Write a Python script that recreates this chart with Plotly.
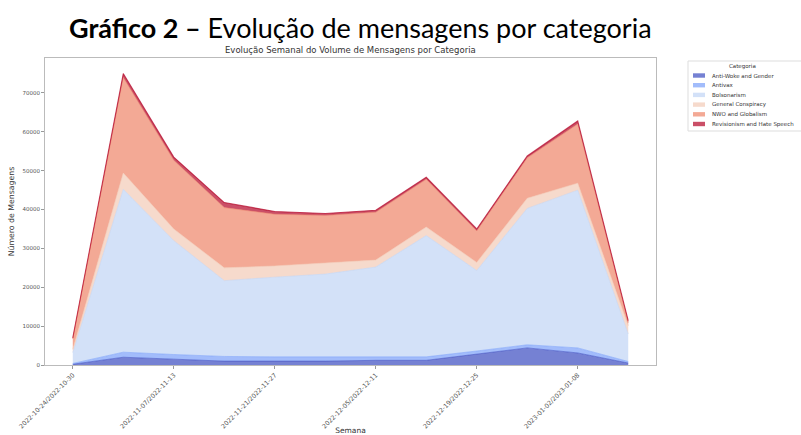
import plotly.graph_objects as go

weeks = ["2022-10-24/2022-10-30", "2022-10-31/2022-11-06", "2022-11-07/2022-11-13",
         "2022-11-14/2022-11-20", "2022-11-21/2022-11-27", "2022-11-28/2022-12-04",
         "2022-12-05/2022-12-11", "2022-12-12/2022-12-18", "2022-12-19/2022-12-25",
         "2022-12-26/2023-01-01", "2023-01-02/2023-01-08", "2023-01-09/2023-01-15"]

anti_woke = [200, 2000, 1500, 1000, 1000, 1000, 1200, 1200, 2800, 4400, 3100, 500]
antivax = [200, 1300, 1200, 1200, 1100, 1100, 900, 900, 800, 800, 1300, 400]
bolsonarism = [2800, 41900, 29300, 19500, 20500, 21300, 23100, 31200, 20700, 35100, 40600, 7100]
general_conspiracy = [800, 4200, 3000, 3300, 2900, 2800, 1800, 2200, 2100, 2600, 1800, 2100]
nwo_globalism = [2700, 24600, 17700, 15500, 13300, 12300, 12300, 12300, 8100, 10400, 15200, 800]
revisionism = [300, 1000, 800, 1300, 700, 500, 500, 500, 500, 500, 800, 500]

categories = ["Anti-Woke and Gender", "Antivax", "Bolsonarism",
              "General Conspiracy", "NWO and Globalism", "Revisionism and Hate Speech"]
series = [anti_woke, antivax, bolsonarism, general_conspiracy, nwo_globalism, revisionism]
# coolwarm, 6 steps, alpha 0.7
colors = ["rgba(59,76,192,0.7)", "rgba(123,159,249,0.7)", "rgba(192,212,245,0.7)",
          "rgba(242,203,183,0.7)", "rgba(238,132,104,0.7)", "rgba(180,4,38,0.7)"]

x = list(range(len(weeks)))

fig = go.Figure()
for name, vals, col in zip(categories, series, colors):
    fig.add_trace(go.Scatter(x=x, y=vals, name=name, mode="lines",
                             stackgroup="one", fillcolor=col, showlegend=False,
                             line=dict(color=col, width=1.1 if name.startswith("Rev") else 0.8)))

W, H = 801, 435
ml, mr, mt, mb = 45, 145, 58, 70
pw, ph = W - ml - mr, H - mt - mb


def px_x(p):
    return (p - ml) / pw


def px_y(p):
    return (H - mb - p) / ph


# small matplotlib-style legend, drawn by hand (plotly's rows are too tall)
shapes = [dict(type="rect", xref="paper", yref="paper",
               x0=px_x(688), x1=px_x(812), y0=px_y(61), y1=px_y(131),
               line=dict(color="#dddddd", width=1), fillcolor="white")]
annotations = [
    dict(text="<b>Gráfico 2 –</b> Evolução de mensagens por categoria",
         x=px_x(360), y=px_y(28), xref="paper", yref="paper", yanchor="middle",
         showarrow=False, font=dict(family="Lato", size=27, color="black")),
    dict(text="Evolução Semanal do Volume de Mensagens por Categoria",
         x=0.5, y=px_y(50), xref="paper", yref="paper", yanchor="middle",
         showarrow=False, font=dict(size=8.5, color="#333")),
    dict(text="Categoria", x=px_x(742), y=px_y(66), xref="paper", yref="paper",
         xanchor="center", yanchor="middle", showarrow=False,
         font=dict(size=5.5, color="#333")),
]
for i, (name, col) in enumerate(zip(categories, colors)):
    yc = 75.5 + i * 9.7
    shapes.append(dict(type="rect", xref="paper", yref="paper",
                       x0=px_x(693), x1=px_x(705), y0=px_y(yc - 2.2), y1=px_y(yc + 2.2),
                       line=dict(width=0), fillcolor=col))
    annotations.append(dict(text=name, x=px_x(710), y=px_y(yc), xref="paper", yref="paper",
                            xanchor="left", yanchor="middle", showarrow=False,
                            font=dict(size=5.5, color="#333")))

fig.update_layout(
    width=W, height=H,
    margin=dict(l=ml, r=mr, t=mt, b=mb, autoexpand=False),
    paper_bgcolor="white", plot_bgcolor="white",
    font=dict(family="DejaVu Sans", size=6, color="#555"),
    showlegend=False,
    shapes=shapes,
    annotations=annotations,
)

fig.update_xaxes(range=[-0.55, 11.55], tickmode="array", tickvals=x[::2],
                 ticktext=weeks[::2], tickangle=-45, ticks="outside", ticklen=3,
                 tickcolor="#999", showline=True, linecolor="#bbbbbb", mirror=True,
                 showgrid=False, zeroline=False, automargin=False,
                 tickfont=dict(size=6.3),
                 title=dict(text="Semana", font=dict(size=7.5, color="#333"), standoff=1))
fig.update_yaxes(range=[0, 79000], tickmode="array",
                 tickvals=[0, 10000, 20000, 30000, 40000, 50000, 60000, 70000],
                 tickformat="d", ticks="outside", ticklen=3, tickcolor="#999",
                 showline=True, linecolor="#bbbbbb", mirror=True,
                 showgrid=False, zeroline=False, automargin=False,
                 tickfont=dict(size=5.5),
                 title=dict(text="Número de Mensagens", font=dict(size=7.8, color="#333"), standoff=6))

fig.write_html("out.html", config={"displayModeBar": False},
               post_script="document.body.style.margin='0';")
